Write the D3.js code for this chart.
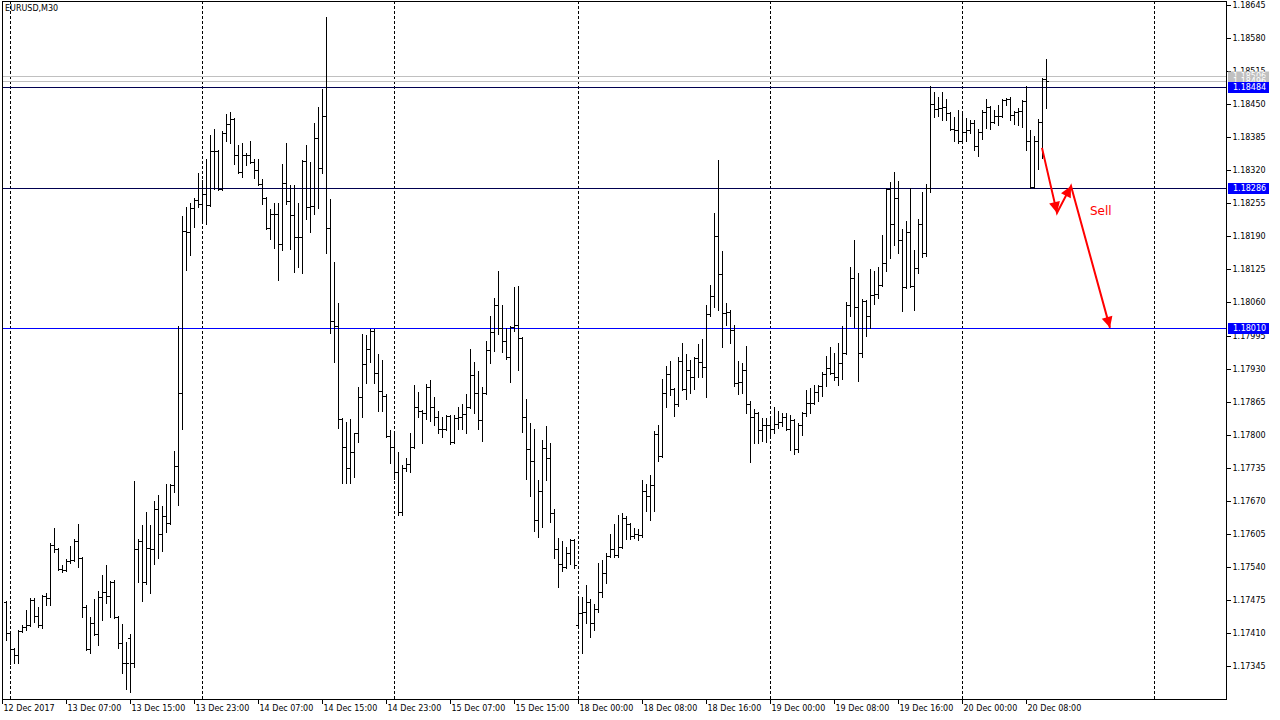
<!DOCTYPE html>
<html><head><meta charset="utf-8">
<script src="https://cdn.jsdelivr.net/npm/d3@7"></script>
<style>body{margin:0;background:#fff;} svg{display:block;} text{font-family:"DejaVu Sans",sans-serif;}</style>
</head><body>
<svg id="c" width="1280" height="720"></svg>
<script>
const symbolLabel = "EURUSD,M30";
const open = [1.17470,1.17409,1.17378,1.17367,1.17414,1.17421,1.17426,1.17475,1.17443,1.17426,
1.17483,1.17478,1.17583,1.17576,1.17535,1.17534,1.17552,1.17553,1.17591,1.17557,
1.17462,1.17378,1.17430,1.17408,1.17480,1.17490,1.17482,1.17511,1.17441,1.17391,
1.17350,1.17401,1.17350,1.17576,1.17590,1.17510,1.17577,1.17576,1.17654,1.17604,
1.17640,1.17627,1.17700,1.17738,1.17882,1.18201,1.18198,1.18246,1.18262,1.18254,
1.18273,1.18252,1.18358,1.18358,1.18284,1.18393,1.18411,1.18421,1.18350,1.18317,
1.18350,1.18350,1.18336,1.18320,1.18293,1.18265,1.18206,1.18234,1.18234,1.18175,
1.18295,1.18260,1.18232,1.18189,1.18189,1.18339,1.18247,1.18250,1.18383,1.18324,
1.18427,1.18206,1.18024,1.18014,1.17830,1.17775,1.17734,1.17766,1.17803,1.17875,
1.17939,1.17968,1.18004,1.17921,1.17886,1.17876,1.17797,1.17776,1.17727,1.17648,
1.17734,1.17742,1.17776,1.17854,1.17847,1.17842,1.17894,1.17855,1.17834,1.17811,
1.17812,1.17837,1.17786,1.17832,1.17835,1.17841,1.17855,1.17917,1.17881,1.17829,
1.17882,1.17966,1.18002,1.18055,1.18009,1.17985,1.17953,1.18012,1.18016,1.17991,
1.17834,1.17771,1.17749,1.17633,1.17690,1.17773,1.17755,1.17646,1.17576,1.17546,
1.17540,1.17567,1.17593,1.17426,1.17450,1.17452,1.17471,1.17430,1.17458,1.17491,
1.17528,1.17561,1.17576,1.17563,1.17580,1.17637,1.17624,1.17601,1.17605,1.17603,
1.17690,1.17679,1.17701,1.17801,1.17758,1.17882,1.17919,1.17889,1.17860,1.17945,
1.17889,1.17927,1.17913,1.17950,1.17943,1.17934,1.18037,1.18073,1.18191,1.18116,
1.18040,1.18042,1.18006,1.17901,1.17904,1.17927,1.17860,1.17834,1.17842,1.17809,
1.17819,1.17819,1.17811,1.17821,1.17825,1.17834,1.17811,1.17829,1.17771,1.17819,
1.17843,1.17863,1.17862,1.17884,1.17896,1.17919,1.17932,1.17921,1.17914,1.17941,
1.17961,1.18055,1.18109,1.18052,1.17960,1.18063,1.18033,1.18075,1.18077,1.18094,
1.18138,1.18283,1.18214,1.18265,1.18183,1.18090,1.18199,1.18092,1.18127,1.18214,
1.18157,1.18286,1.18450,1.18440,1.18442,1.18444,1.18433,1.18402,1.18399,1.18378,
1.18396,1.18399,1.18413,1.18368,1.18396,1.18435,1.18445,1.18415,1.18427,1.18427,
1.18458,1.18461,1.18429,1.18435,1.18437,1.18457,1.18378,1.18288,1.18378,1.18415,
1.18499];
const high = [1.17472,1.17412,1.17380,1.17416,1.17426,1.17455,1.17478,1.17478,1.17462,1.17485,
1.17488,1.17586,1.17616,1.17578,1.17544,1.17555,1.17581,1.17594,1.17624,1.17559,
1.17464,1.17441,1.17476,1.17493,1.17524,1.17543,1.17513,1.17514,1.17444,1.17428,
1.17393,1.17408,1.17709,1.17594,1.17622,1.17647,1.17622,1.17669,1.17682,1.17660,
1.17702,1.17702,1.17768,1.18014,1.18231,1.18248,1.18255,1.18266,1.18314,1.18301,
1.18342,1.18389,1.18401,1.18360,1.18398,1.18431,1.18435,1.18423,1.18370,1.18373,
1.18354,1.18377,1.18342,1.18342,1.18302,1.18267,1.18243,1.18255,1.18255,1.18332,
1.18374,1.18291,1.18291,1.18255,1.18340,1.18370,1.18337,1.18413,1.18444,1.18479,
1.18621,1.18263,1.18139,1.18058,1.17832,1.17825,1.17830,1.17804,1.17893,1.17998,
1.17996,1.18007,1.18007,1.17959,1.17947,1.17880,1.17809,1.17801,1.17766,1.17740,
1.17755,1.17803,1.17898,1.17884,1.17849,1.17900,1.17907,1.17875,1.17846,1.17834,
1.17839,1.17839,1.17839,1.17855,1.17860,1.17880,1.17968,1.17943,1.17925,1.17894,
1.17985,1.18033,1.18068,1.18121,1.18055,1.18009,1.18014,1.18091,1.18092,1.17993,
1.17871,1.17823,1.17811,1.17711,1.17789,1.17817,1.17784,1.17653,1.17596,1.17591,
1.17580,1.17595,1.17595,1.17483,1.17481,1.17504,1.17476,1.17467,1.17547,1.17553,
1.17567,1.17605,1.17624,1.17642,1.17646,1.17640,1.17627,1.17616,1.17614,1.17711,
1.17703,1.17721,1.17808,1.17819,1.17909,1.17935,1.17945,1.17891,1.17952,1.17981,
1.17959,1.17947,1.17953,1.17978,1.17989,1.18055,1.18094,1.18236,1.18340,1.18162,
1.18058,1.18045,1.18016,1.17945,1.17941,1.17974,1.17867,1.17850,1.17845,1.17832,
1.17832,1.17837,1.17855,1.17847,1.17842,1.17843,1.17839,1.17831,1.17823,1.17845,
1.17888,1.17891,1.17898,1.17898,1.17924,1.17955,1.17972,1.17961,1.17981,1.18014,
1.18061,1.18129,1.18183,1.18118,1.18066,1.18065,1.18125,1.18121,1.18130,1.18193,
1.18285,1.18297,1.18317,1.18299,1.18204,1.18221,1.18286,1.18164,1.18225,1.18278,
1.18293,1.18486,1.18474,1.18465,1.18473,1.18460,1.18435,1.18425,1.18438,1.18437,
1.18422,1.18419,1.18419,1.18401,1.18438,1.18460,1.18447,1.18438,1.18448,1.18461,
1.18463,1.18465,1.18437,1.18442,1.18458,1.18486,1.18399,1.18387,1.18420,1.18501,
1.18538];
const low = [1.17396,1.17349,1.17350,1.17351,1.17412,1.17416,1.17424,1.17432,1.17422,1.17419,
1.17465,1.17465,1.17570,1.17533,1.17530,1.17532,1.17547,1.17551,1.17540,1.17441,
1.17376,1.17371,1.17406,1.17386,1.17435,1.17468,1.17441,1.17439,1.17380,1.17332,
1.17299,1.17293,1.17344,1.17511,1.17472,1.17507,1.17488,1.17545,1.17557,1.17571,
1.17609,1.17625,1.17687,1.17662,1.17811,1.18123,1.18153,1.18209,1.18248,1.18221,
1.18214,1.18250,1.18283,1.18282,1.18282,1.18378,1.18373,1.18332,1.18315,1.18307,
1.18330,1.18335,1.18304,1.18291,1.18254,1.18204,1.18184,1.18168,1.18104,1.18164,
1.18253,1.18166,1.18120,1.18130,1.18117,1.18224,1.18199,1.18234,1.18245,1.18314,
1.18157,1.18000,1.17943,1.17814,1.17705,1.17704,1.17704,1.17716,1.17786,1.17834,
1.17902,1.17943,1.17902,1.17847,1.17847,1.17795,1.17745,1.17712,1.17642,1.17642,
1.17729,1.17727,1.17774,1.17834,1.17784,1.17830,1.17827,1.17819,1.17803,1.17795,
1.17809,1.17782,1.17784,1.17811,1.17812,1.17804,1.17852,1.17842,1.17812,1.17788,
1.17880,1.17941,1.17965,1.17998,1.17963,1.17948,1.17904,1.18004,1.17928,1.17806,
1.17712,1.17679,1.17611,1.17599,1.17619,1.17711,1.17629,1.17557,1.17500,1.17532,
1.17537,1.17546,1.17537,1.17420,1.17371,1.17430,1.17403,1.17416,1.17452,1.17481,
1.17509,1.17559,1.17559,1.17559,1.17578,1.17594,1.17594,1.17596,1.17593,1.17598,
1.17650,1.17632,1.17650,1.17749,1.17756,1.17854,1.17878,1.17837,1.17856,1.17887,
1.17871,1.17881,1.17889,1.17913,1.17913,1.17875,1.18033,1.18052,1.18045,1.17972,
1.18016,1.17980,1.17896,1.17880,1.17882,1.17842,1.17747,1.17784,1.17784,1.17788,
1.17786,1.17797,1.17804,1.17814,1.17817,1.17809,1.17770,1.17762,1.17766,1.17799,
1.17837,1.17843,1.17860,1.17867,1.17876,1.17896,1.17919,1.17907,1.17898,1.17909,
1.17959,1.18033,1.18011,1.17906,1.17952,1.17994,1.18009,1.18057,1.18068,1.18092,
1.18121,1.18147,1.18173,1.18157,1.18044,1.18088,1.18090,1.18045,1.18118,1.18150,
1.18151,1.18278,1.18424,1.18427,1.18419,1.18419,1.18400,1.18378,1.18374,1.18376,
1.18378,1.18393,1.18360,1.18348,1.18381,1.18404,1.18402,1.18412,1.18409,1.18425,
1.18448,1.18419,1.18411,1.18409,1.18406,1.18360,1.18286,1.18286,1.18322,1.18345,
1.18442];
const close = [1.17409,1.17378,1.17367,1.17414,1.17421,1.17426,1.17475,1.17443,1.17426,1.17483,
1.17478,1.17583,1.17576,1.17535,1.17534,1.17552,1.17553,1.17591,1.17557,1.17462,
1.17378,1.17430,1.17408,1.17480,1.17490,1.17482,1.17511,1.17441,1.17391,1.17350,
1.17350,1.17350,1.17576,1.17590,1.17510,1.17577,1.17576,1.17654,1.17604,1.17640,
1.17627,1.17700,1.17738,1.17882,1.18201,1.18198,1.18246,1.18262,1.18254,1.18273,
1.18252,1.18358,1.18358,1.18284,1.18393,1.18411,1.18421,1.18350,1.18317,1.18350,
1.18350,1.18336,1.18320,1.18293,1.18265,1.18206,1.18234,1.18234,1.18175,1.18295,
1.18260,1.18232,1.18189,1.18189,1.18339,1.18247,1.18250,1.18383,1.18324,1.18427,
1.18206,1.18024,1.18014,1.17830,1.17775,1.17734,1.17766,1.17803,1.17875,1.17939,
1.17968,1.18004,1.17921,1.17886,1.17876,1.17797,1.17776,1.17727,1.17648,1.17734,
1.17742,1.17776,1.17854,1.17847,1.17842,1.17894,1.17855,1.17834,1.17811,1.17812,
1.17837,1.17786,1.17832,1.17835,1.17841,1.17855,1.17917,1.17881,1.17829,1.17882,
1.17966,1.18002,1.18055,1.18009,1.17985,1.17953,1.18012,1.18016,1.17991,1.17834,
1.17771,1.17749,1.17633,1.17690,1.17773,1.17755,1.17646,1.17576,1.17546,1.17540,
1.17567,1.17593,1.17544,1.17450,1.17452,1.17471,1.17430,1.17458,1.17491,1.17528,
1.17561,1.17576,1.17563,1.17580,1.17637,1.17624,1.17601,1.17605,1.17603,1.17690,
1.17679,1.17701,1.17801,1.17758,1.17882,1.17919,1.17889,1.17860,1.17945,1.17889,
1.17927,1.17913,1.17950,1.17943,1.17934,1.18037,1.18073,1.18191,1.18116,1.18040,
1.18042,1.18006,1.17901,1.17904,1.17927,1.17860,1.17834,1.17842,1.17809,1.17819,
1.17819,1.17811,1.17821,1.17825,1.17834,1.17811,1.17829,1.17771,1.17819,1.17843,
1.17863,1.17862,1.17884,1.17896,1.17919,1.17932,1.17921,1.17914,1.17941,1.17961,
1.18055,1.18109,1.18052,1.17960,1.18063,1.18033,1.18075,1.18077,1.18094,1.18138,
1.18283,1.18214,1.18265,1.18183,1.18090,1.18199,1.18092,1.18127,1.18214,1.18157,
1.18286,1.18450,1.18440,1.18442,1.18444,1.18433,1.18402,1.18399,1.18378,1.18396,
1.18399,1.18413,1.18368,1.18396,1.18435,1.18445,1.18415,1.18427,1.18427,1.18458,
1.18461,1.18429,1.18435,1.18437,1.18457,1.18378,1.18288,1.18378,1.18415,1.18499,
1.18496];

// time axis: bar index of each label, and label text
const timeLabelBars = [0,15,31,47,63,79,95,111,127,143,159,175,191,207,223,239,255];
const timeLabels = ["12 Dec 2017","13 Dec 07:00","13 Dec 15:00","13 Dec 23:00","14 Dec 07:00","14 Dec 15:00","14 Dec 23:00","15 Dec 07:00","15 Dec 15:00","18 Dec 00:00","18 Dec 08:00","18 Dec 16:00","19 Dec 00:00","19 Dec 08:00","19 Dec 16:00","20 Dec 00:00","20 Dec 08:00"];
// day separators (bar index)
const gridBars = [1,49,97,143,191,239,287];
// price axis ticks
const priceTicks = [1.18645,1.18580,1.18515,1.18450,1.18385,1.18320,1.18255,1.18190,1.18125,1.18060,1.17995,1.17930,1.17865,1.17800,1.17735,1.17670,1.17605,1.17540,1.17475,1.17410,1.17345];
// horizontal levels
const levelPrices = [1.18484,1.18286,1.18010];
// ask / bid lines
const quotePrices = [1.18506,1.18496];
// sell scenario arrows: [bar index, price]
const arrowPoints = [[259,1.18364],[262.75,1.18236],[266.25,1.18289],[276,1.18010]];
const noteText = "Sell";
const notePos = [271, 1.18240];

const W = 1280, H = 720;
const frame = {l:2, t:1, r:1226, b:699};
const x = d3.scaleLinear().domain([0, 287]).range([6, 1154]);
const y = d3.scaleLinear().domain([1.17345, 1.18645]).range([666, 5]);
const px = v => Math.round(x(v));
const py = v => Math.round(y(v));

const svg = d3.select("#c");
svg.append("rect").attr("width", W).attr("height", H).attr("fill", "#fff");

const defs = svg.append("defs");
defs.append("clipPath").attr("id","plotclip").append("rect")
  .attr("x", frame.l).attr("y", frame.t).attr("width", frame.r - frame.l).attr("height", frame.b - frame.t);

const plot = svg.append("g").attr("clip-path","url(#plotclip)").attr("shape-rendering","crispEdges");

// dashed day separators
plot.selectAll("line.grid").data(gridBars).join("line").attr("class","grid")
  .attr("x1", d => px(d) + 0.5).attr("x2", d => px(d) + 0.5)
  .attr("y1", frame.t).attr("y2", frame.b)
  .attr("stroke", "#000").attr("stroke-width", 1).attr("stroke-dasharray", "3,2");

// quote lines
plot.selectAll("line.quote").data(quotePrices).join("line").attr("class","quote")
  .attr("x1", frame.l).attr("x2", frame.r)
  .attr("y1", d => py(d) + 0.5).attr("y2", d => py(d) + 0.5)
  .attr("stroke", "#c0c0c0").attr("stroke-width", 1);

// levels
const levelColors = ["#000050","#000050","#0000ff"];
plot.selectAll("line.level").data(levelPrices).join("line").attr("class","level")
  .attr("x1", frame.l).attr("x2", frame.r)
  .attr("y1", d => py(d) + 0.5).attr("y2", d => py(d) + 0.5)
  .attr("stroke", (d,i) => levelColors[i]).attr("stroke-width", 1);

// OHLC bars
const bars = d3.range(open.length).map(i => ({i, o: open[i], h: high[i], l: low[i], c: close[i]}));
const bg = plot.append("g").attr("fill", "#000");
bg.selectAll("rect.hl").data(bars).join("rect").attr("class","hl")
  .attr("x", d => px(d.i)).attr("y", d => py(d.h))
  .attr("width", 1).attr("height", d => py(d.l) - py(d.h) + 1);
bg.selectAll("rect.op").data(bars).join("rect").attr("class","op")
  .attr("x", d => px(d.i) - 2).attr("y", d => py(d.o))
  .attr("width", 2).attr("height", 1);
bg.selectAll("rect.cl").data(bars).join("rect").attr("class","cl")
  .attr("x", d => px(d.i) + 1).attr("y", d => py(d.c))
  .attr("width", 2).attr("height", 1);

// arrows
const arrows = svg.append("g").attr("clip-path","url(#plotclip)");
const pts = arrowPoints.map(p => [x(p[0]), y(p[1])]);
arrows.append("path").attr("d", d3.line()(pts)).attr("fill","none")
  .attr("stroke","#ff0000").attr("stroke-width",2).attr("stroke-linejoin","miter");
for (let k = 1; k < pts.length; k++) {
  const [x0,y0] = pts[k-1], [x1,y1] = pts[k];
  const len = Math.hypot(x1-x0, y1-y0), ux = (x1-x0)/len, uy = (y1-y0)/len;
  const L = 11, hw = 5.5;
  const bx = x1 - ux*L, by = y1 - uy*L;
  arrows.append("polygon")
    .attr("points", [[x1,y1],[bx - uy*hw, by + ux*hw],[bx + uy*hw, by - ux*hw]].map(p=>p.join(",")).join(" "))
    .attr("fill","#ff0000");
}
svg.append("text").attr("x", x(notePos[0])).attr("y", y(notePos[1]))
  .attr("fill","#ff0000").attr("font-size","12px").attr("dy","0.35em").text(noteText);

// frame
svg.append("rect").attr("x", frame.l + 0.5).attr("y", frame.t + 0.5)
  .attr("width", frame.r - frame.l).attr("height", frame.b - frame.t)
  .attr("fill","none").attr("stroke","#000").attr("shape-rendering","crispEdges");

// price axis
const yAxis = d3.axisRight(y).tickValues(priceTicks).tickSize(4).tickSizeOuter(0)
  .tickFormat(d3.format(".5f"));
const ya = svg.append("g").attr("transform", `translate(${frame.r + 0.5},0)`).call(yAxis);
ya.select(".domain").remove();
ya.selectAll(".tick line").attr("stroke","#000").attr("shape-rendering","crispEdges");
ya.selectAll(".tick").attr("transform", d => `translate(0,${py(d)+0.5})`);
ya.selectAll(".tick text").attr("x", 6).attr("font-size","8px").attr("font-family","DejaVu Sans").attr("fill","#000");

// quote & level labels on price axis (later tags cover earlier ones, as in the terminal)
const tagG = svg.append("g");
function tag(price, bgc, fg, h) {
  const yy = py(price) + 0.5;
  tagG.append("rect").attr("x", frame.r + 2).attr("y", yy - h/2).attr("width", 41).attr("height", h).attr("fill", bgc);
  tagG.append("text").attr("x", frame.r + 7).attr("y", yy).attr("dy","0.35em")
    .attr("font-size","8px").attr("fill", fg).text(d3.format(".5f")(price));
}
quotePrices.forEach(p => tag(p, "#c0c0c0", "#fff", 10));
levelPrices.forEach(p => tag(p, "#0000ff", "#fff", 11));

// time axis
const xAxis = d3.axisBottom(x).tickValues(timeLabelBars).tickSize(4).tickSizeOuter(0)
  .tickFormat((d,i) => timeLabels[i]);
const xa = svg.append("g").attr("transform", `translate(0,${frame.b + 0.5})`).call(xAxis);
xa.select(".domain").remove();
xa.selectAll(".tick").attr("transform", d => `translate(${d === 0 ? 2.5 : px(d)+0.5},0)`);
xa.selectAll(".tick line").attr("stroke","#000").attr("shape-rendering","crispEdges");
xa.selectAll(".tick text").attr("text-anchor","start").attr("x", 1).attr("y", 4).attr("dy","0.9em")
  .attr("font-size","8px").attr("font-family","DejaVu Sans").attr("fill","#000");

// symbol label
svg.append("text").attr("x", 5).attr("y", 8).attr("dy","0.35em").attr("font-size","8px").attr("fill","#000").text(symbolLabel);
</script>
</body></html>
